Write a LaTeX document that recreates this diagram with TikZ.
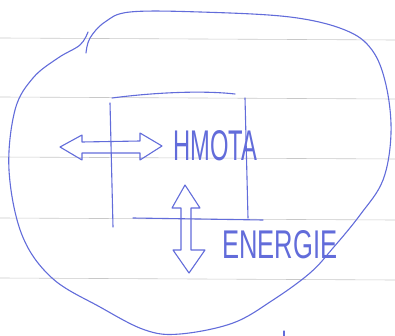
\documentclass[tikz,border=0pt]{standalone}
\usepackage{fontspec}
\setsansfont{Liberation Sans}
\usetikzlibrary{calc}
\definecolor{ink}{RGB}{98,108,218}
\definecolor{rule}{RGB}{200,200,200}
\tikzset{pen/.style={draw=ink, line width=1.1pt, line cap=round, line join=round},
  ruling/.style={draw=rule, line width=0.6pt},
  word/.style={text=ink, inner sep=0pt, font=\sffamily}}

\begin{document}
\begin{tikzpicture}[x=1pt, y=-1pt]
\useasboundingbox (0,0) rectangle (395,336);
% ruled paper
\foreach \yy in {38,97,157,218,278}
  \draw[ruling] (0,\yy) -- (395,\yy+2);
% outline round everything
\draw[pen] plot[smooth, tension=0.6] coordinates {(86,53) (90,38) (105,22) (130,12) (200,12) (290,17) (345,30) (372,50) (386,85) (391,133) (383,180) (360,215) (333,248) (310,273) (273,300) (233,323) (180,334) (145,330) (100,307) (52,278) (22,235) (9,170) (15,110) (33,78) (58,58) (80,45) (88,32)};
% the box
\draw[pen] (112,98) .. controls (150,93) and (200,90) .. (235,94);
\draw[pen] (110,103) -- (113,227);
\draw[pen] (245,98) -- (248,218);
\draw[pen] (133,218) -- (263,220);
% sideways arrow
\draw[pen] (60,147) -- (82,135) -- (82,142) -- (140,141) -- (140,133) -- (162,146) -- (140,160) -- (140,153) -- (82,153) -- (82,160) -- cycle;
% up and down arrow
\draw[pen] (185,185) -- (200,208) -- (191,208) -- (191,250) -- (205,250) -- (189,273) -- (173,250) -- (181,250) -- (181,208) -- (172,208) -- cycle;
% labels
\node[word, anchor=west] (hmota) at (173,146) {\resizebox{84pt}{30pt}{HMOTA}};
\node[word, anchor=west] (energie) at (222,245) {\resizebox{115pt}{28pt}{ENERGIE}};
% stray mark
\draw[pen] (284,331) -- (284,336);
\end{tikzpicture}
\end{document}
